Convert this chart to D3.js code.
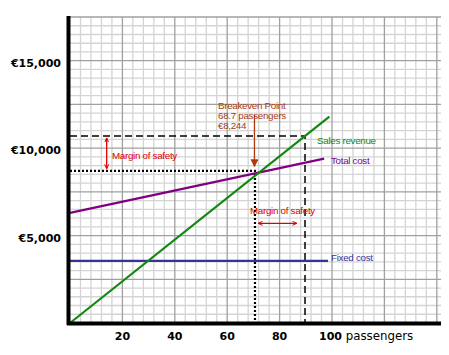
<!DOCTYPE html>
<html><head><meta charset="utf-8">
<script src="https://cdn.jsdelivr.net/npm/d3@7"></script>
<style>body{margin:0;background:#fff}svg{display:block}</style>
</head><body>
<script>
// ---- data ----
const xTicks = [20, 40, 60, 80, 100];
const yTicks = [5000, 10000, 15000];
const yTickLabels = ["€5,000", "€10,000", "€15,000"];
const salesX = [0, 99];
const salesRevenue = [0, 11800];
const totalCostX = [0, 97];
const totalCost = [6300, 9400];
const fixedCostX = [0, 98.5];
const fixedCost = [3550, 3550];
const breakeven = [70.6, 8700];      // drawn position of breakeven guide
const safetyPoint = [89.7, 10700];   // drawn position of safety guide
const breakevenText = ["Breakeven Point", "68.7 passengers", "€8,244"];

const W = 449, H = 355;
const svg = d3.select("body").append("svg").attr("width", W).attr("height", H);
const x = d3.scaleLinear().domain([0, 141.6]).range([70, 441]);
const y = d3.scaleLinear().domain([0, 17500]).range([323, 17]);

// grid
const g = svg.append("g");
const vMinor = d3.range(4, 141, 4);
const hMinor = d3.range(500, 17501, 500);
g.selectAll(".vm").data(vMinor.filter(v => v % 20 !== 0)).join("line")
  .attr("x1", d => x(d)).attr("x2", d => x(d)).attr("y1", y(17500)).attr("y2", y(0))
  .attr("stroke", "#d4d4d4").attr("stroke-width", 1.3);
g.selectAll(".hm").data(hMinor.filter(v => v % 2500 !== 0)).join("line")
  .attr("y1", d => y(d)).attr("y2", d => y(d)).attr("x1", x(0)).attr("x2", x(141.6))
  .attr("stroke", "#d4d4d4").attr("stroke-width", 1.3);
g.selectAll(".vM").data(vMinor.filter(v => v % 20 === 0)).join("line")
  .attr("x1", d => x(d)).attr("x2", d => x(d)).attr("y1", y(17500)).attr("y2", y(0))
  .attr("stroke", "#a0a0a0").attr("stroke-width", 1.3);
g.selectAll(".hM").data(hMinor.filter(v => v % 2500 === 0)).join("line")
  .attr("y1", d => y(d)).attr("y2", d => y(d)).attr("x1", x(0)).attr("x2", x(141.6))
  .attr("stroke", "#a0a0a0").attr("stroke-width", 1.3);

// markers
const defs = svg.append("defs");
defs.append("marker").attr("id", "red").attr("viewBox", "0 0 10 10").attr("refX", 9).attr("refY", 5)
  .attr("markerWidth", 5).attr("markerHeight", 5).attr("orient", "auto-start-reverse").attr("markerUnits", "userSpaceOnUse")
  .append("path").attr("d", "M0,1 L9,5 L0,9").attr("fill", "none").attr("stroke", "#e00000").attr("stroke-width", 2);
defs.append("marker").attr("id", "brown").attr("viewBox", "0 0 10 10").attr("refX", 9).attr("refY", 5)
  .attr("markerWidth", 8).attr("markerHeight", 8).attr("orient", "auto").attr("markerUnits", "userSpaceOnUse")
  .append("path").attr("d", "M0,0 L10,5 L0,10 Z").attr("fill", "#b03a10");

// guides
svg.append("path").attr("d", `M${x(0)},${y(safetyPoint[1])}H${x(safetyPoint[0])}V${y(0)}`)
  .attr("fill", "none").attr("stroke", "#000").attr("stroke-width", 1.5).attr("stroke-dasharray", "7,4");
svg.append("path").attr("d", `M${x(0)},${y(breakeven[1])}H${x(breakeven[0])}V${y(0)}`)
  .attr("fill", "none").attr("stroke", "#000").attr("stroke-width", 2.2).attr("stroke-dasharray", "2,2");

// lines
const line = d3.line().x(d => x(d[0])).y(d => y(d[1]));
svg.append("path").attr("d", line(fixedCostX.map((v, i) => [v, fixedCost[i]])))
  .attr("stroke", "#333399").attr("stroke-width", 2.2).attr("fill", "none");
svg.append("path").attr("d", line(totalCostX.map((v, i) => [v, totalCost[i]])))
  .attr("stroke", "#800080").attr("stroke-width", 2.2).attr("fill", "none");
svg.append("path").attr("d", line(salesX.map((v, i) => [v, salesRevenue[i]])))
  .attr("stroke", "#118811").attr("stroke-width", 2.2).attr("fill", "none");

// margin of safety arrows
svg.append("line").attr("x1", x(14)).attr("x2", x(14)).attr("y1", y(safetyPoint[1]) + 2).attr("y2", y(breakeven[1]) - 2)
  .attr("stroke", "#e00000").attr("stroke-width", 1.3)
  .attr("marker-start", "url(#red)").attr("marker-end", "url(#red)");
svg.append("line").attr("x1", x(71.8)).attr("x2", x(86.6)).attr("y1", y(5700)).attr("y2", y(5700))
  .attr("stroke", "#e00000").attr("stroke-width", 1.3)
  .attr("marker-start", "url(#red)").attr("marker-end", "url(#red)");

// breakeven arrow
svg.append("line").attr("x1", x(70.4)).attr("x2", x(70.4)).attr("y1", y(11900)).attr("y2", y(8950))
  .attr("stroke", "#b03a10").attr("stroke-width", 1.3).attr("marker-end", "url(#brown)");

// axes
svg.append("line").attr("x1", 68.5).attr("x2", 68.5).attr("y1", 16).attr("y2", 325)
  .attr("stroke", "#000").attr("stroke-width", 4);
svg.append("line").attr("x1", 67).attr("x2", 441).attr("y1", 323.5).attr("y2", 323.5)
  .attr("stroke", "#000").attr("stroke-width", 4);

// tick labels
const font = "DejaVu Sans, Verdana, sans-serif";
svg.selectAll(".yl").data(yTicks).join("text")
  .attr("x", 61).attr("y", (d, i) => y(d) + 6).attr("text-anchor", "end")
  .attr("font-family", font).attr("font-weight", "bold").attr("font-size", 11)
  .text((d, i) => yTickLabels[i]);
svg.selectAll(".xl").data(xTicks.slice(0, 4)).join("text")
  .attr("x", d => x(d)).attr("y", 340).attr("text-anchor", "middle")
  .attr("font-family", font).attr("font-weight", "bold").attr("font-size", 11)
  .text(d => d);
const last = svg.append("text").attr("x", x(100) - 13).attr("y", 340)
  .attr("font-family", font).attr("font-size", 11);
last.append("tspan").attr("font-weight", "bold").text(xTicks[4]);
last.append("tspan").attr("font-size", 11.8).text(" passengers");

// annotations
const af = "Liberation Sans, Arial, sans-serif";
function label(tx, ty, txt, col) {
  svg.append("text").attr("x", tx).attr("y", ty).attr("font-family", af).attr("font-size", 9.8)
    .attr("letter-spacing", -0.3).attr("fill", col).text(txt);
}
label(112, 158.5, "Margin of safety", "#e00000");
label(250, 213.5, "Margin of safety", "#e00000");
breakevenText.forEach((t, i) => label(218, 109 + i * 10, t, "#a83a10"));
label(317, 144, "Sales revenue", "#118811");
label(331, 163.5, "Total cost", "#800080");
label(331, 261, "Fixed cost", "#333399");
</script>
</body></html>
